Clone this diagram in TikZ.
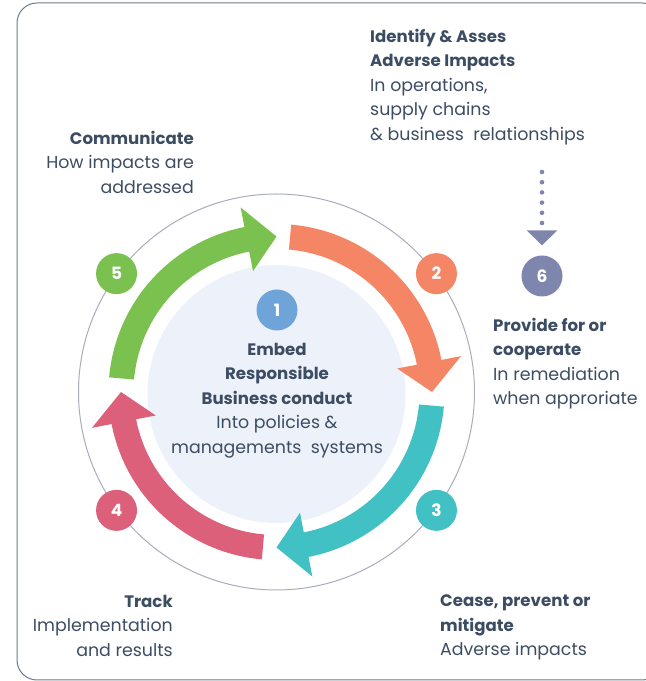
\documentclass[tikz,border=0pt]{standalone}
\usepackage{fontspec}
\setmainfont{Poppins}
\usetikzlibrary{positioning,arrows.meta}
\definecolor{inkblue}{HTML}{3C4D63}
\definecolor{framegray}{HTML}{6E7B8D}
\definecolor{ringgray}{HTML}{A8ADBC}
\definecolor{diskblue}{HTML}{EDF2FA}
\definecolor{stepgreen}{HTML}{7BC150}
\definecolor{steporange}{HTML}{F48565}
\definecolor{stepteal}{HTML}{42C1C5}
\definecolor{stepred}{HTML}{DC6079}
\definecolor{stepblue}{HTML}{6EA4D7}
\definecolor{stepviolet}{HTML}{7F86AE}
\newcommand{\headline}[1]{{\fontsize{16.6}{24.5}\selectfont\bfseries #1}}
\tikzstyle{numdot} = [circle,minimum size=41pt,inner sep=0pt,text=white,
  font=\fontsize{17}{17}\selectfont\bfseries]
\tikzstyle{steptext} = [inner sep=0pt,text=inkblue,
  font=\fontsize{17.4}{24.5}\selectfont]
\tikzstyle{dotarrow} = [stepviolet,line width=4.6pt,line cap=round,
  dash pattern=on 0pt off 10.2pt,-{Triangle[width=30pt,length=15pt]}]

\begin{document}
\begin{tikzpicture}[x=1pt,y=1pt]
  \useasboundingbox (0,0) rectangle (646,681);
  \draw[framegray,line width=1pt,rounded corners=20pt] (17,1) rectangle (662,678);
  \coordinate (c) at (276.5,289);
  \fill[diskblue] (276.5,287) circle[radius=129];
  \draw[ringgray,line width=1pt] (c) circle[radius=198];
  \begin{scope}[shift={(c)}]
    % cycle arrows: colour / start angle / tip angle
    \foreach \col/\st/\tip in {stepgreen/175/90,steporange/85/0,
                               stepteal/-5/-90,stepred/265/180}{
      \pgfmathsetmacro{\hb}{\tip+11}
      \fill[\col] (\st:168) arc[start angle=\st,end angle=\hb,radius=168]
        -- (\hb:188) -- (\tip:155.5) -- (\hb:123) -- (\hb:143)
        arc[start angle=\hb,end angle=\st,radius=143] -- cycle;
    }
    \node [numdot,fill=steporange] (n2) at (36.5:199) {2};
    \node [numdot,fill=stepteal] (n3) at (-36.5:199) {3};
    \node [numdot,fill=stepred] (n4) at (216.5:199) {4};
    \node [numdot,fill=stepgreen] (n5) at (143.5:199) {5};
    \node [numdot,fill=stepblue] (n1) at (0.5,82) {1};
  \end{scope}
  \node [steptext,align=center,below=12pt of n1] (embed) {%
    \headline{Embed}\\\headline{Responsible}\\\headline{Business conduct}\\
    Into policies \&\\managements\ \ systems};
  \node [numdot,fill=stepviolet] (n6) at (542,405) {6};
  \coordinate (dottop) at (542,509);
  \draw [dotarrow] (dottop) -- ([yshift=10pt]n6.north);
  \node [steptext,align=left,anchor=north west] (identify) at (370,652) {%
    \headline{Identify \& Asses}\\\headline{Adverse Impacts}\\In operations,\\
    supply chains\\\& business\ \ relationships};
  \node [steptext,align=right,anchor=north east] (communicate) at (194,550) {%
    \headline{Communicate}\\How impacts are\\addressed};
  \node [steptext,align=left,anchor=north west] (provide) at (493,363) {%
    \headline{Provide for or}\\\headline{cooperate}\\In remediation\\when approriate};
  \node [steptext,align=left,anchor=north west] (cease) at (440,86) {%
    \headline{Cease, prevent or}\\\headline{mitigate}\\Adverse impacts};
  \node [steptext,align=right,anchor=north east] (track) at (173,86) {%
    \headline{Track}\\Implementation\\and results};
\end{tikzpicture}
\end{document}
